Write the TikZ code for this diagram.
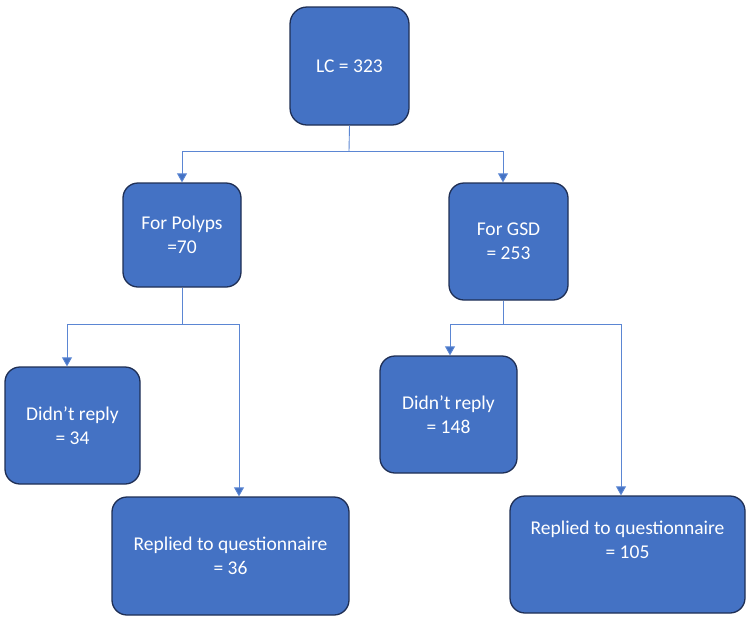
\documentclass[tikz,border=0pt]{standalone}
\usepackage{fontspec}
\setmainfont{Carlito}
\usetikzlibrary{arrows.meta,positioning}
\definecolor{caja}{HTML}{4472C4}
\definecolor{borde}{HTML}{1F2F55}
\definecolor{linea}{HTML}{5B86D3}

\begin{document}
\begin{tikzpicture}[x=1pt,y=-1pt,
  caja/.style={draw=borde,line width=1.3pt,fill=caja,rounded corners=15pt,text=white,align=center,
               font=\fontsize{19.5}{24}\selectfont},
  flecha/.style={draw=linea,line width=0.9pt,-{Triangle[width=10pt,length=9pt,fill=caja]}},
  tramo/.style={draw=linea,line width=0.9pt}]
  \useasboundingbox (0,0) rectangle (750,622);
  % cajas
  \node[caja,minimum width=119pt,minimum height=118pt,rounded corners=17pt] (lc) at (349.5,66) {LC = 323};
  \node[caja,minimum width=118pt,minimum height=104pt] (polyps) at (182,235) {For Polyps\\=70};
  \node[caja,minimum width=119pt,minimum height=117pt] (gsd) at (508.5,241.5) {For GSD\\= 253};
  \node[caja,minimum width=135pt,minimum height=117pt] (nopolyps) at (72.5,425.5) {Didn’t reply\\= 34};
  \node[caja,minimum width=237pt,minimum height=118pt] (sipolyps) at (230.5,556) {Replied to questionnaire\\= 36};
  \node[caja,minimum width=137pt,minimum height=117pt] (nogsd) at (448.5,414.5) {Didn’t reply\\= 148};
  \node[caja,minimum width=235pt,minimum height=117pt,text depth=29pt] (sigsd) at (627.5,554.5) {Replied to questionnaire\\= 105};
  % uniones
  \coordinate (j1) at (349,151);
  \coordinate (j2) at (182,324);
  \coordinate (j3) at (503,324);
  \draw[tramo] (lc.south) -- (j1);
  \draw[flecha] (j1) -| (polyps.north);
  \draw[flecha] (j1) -| ([xshift=-5.5pt]gsd.north);
  \draw[tramo] (polyps.south) -- (j2);
  \draw[flecha] (j2) -| ([xshift=-5.5pt]nopolyps.north);
  \draw[flecha] (j2) -| ([xshift=8.5pt]sipolyps.north);
  \draw[tramo] ([xshift=-5.5pt]gsd.south) -- (j3);
  \draw[flecha] (j3) -| ([xshift=1.5pt]nogsd.north);
  \draw[flecha] (j3) -| ([xshift=-6.5pt]sigsd.north);
\end{tikzpicture}
\end{document}
